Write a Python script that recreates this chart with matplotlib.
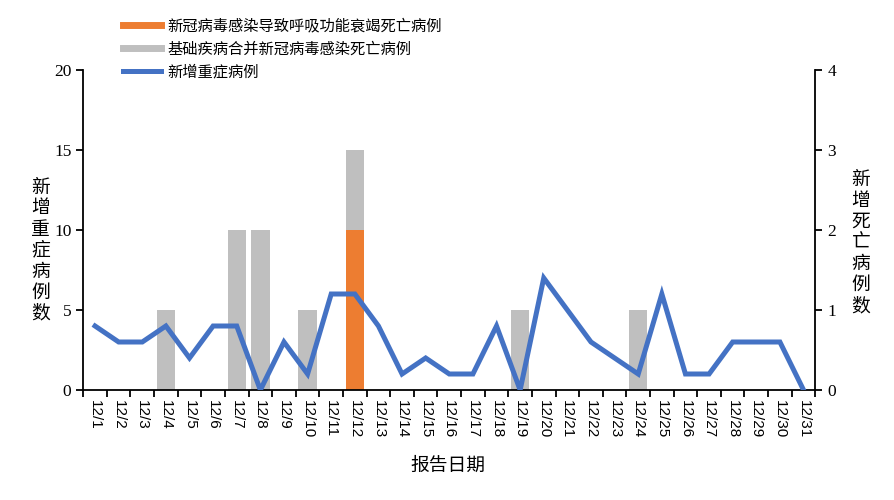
import matplotlib
matplotlib.use("Agg")
import matplotlib.pyplot as plt
from matplotlib.lines import Line2D
import numpy as np

dates = [f"12/{d}" for d in range(1, 32)]
severe = [4, 3, 3, 4, 2, 4, 4, 0, 3, 1, 6, 6, 4, 1, 2, 1, 1, 4, 0, 7,
          5, 3, 2, 1, 6, 1, 1, 3, 3, 3, 0]
death_resp = [0, 0, 0, 0, 0, 0, 0, 0, 0, 0, 0, 2, 0, 0, 0, 0, 0, 0, 0, 0,
              0, 0, 0, 0, 0, 0, 0, 0, 0, 0, 0]
death_basic = [0, 0, 0, 1, 0, 0, 2, 2, 0, 1, 0, 1, 0, 0, 0, 0, 0, 0, 1, 0,
               0, 0, 0, 1, 0, 0, 0, 0, 0, 0, 0]
left_ticks = [0, 5, 10, 15, 20]
right_ticks = [0, 1, 2, 3, 4]

CJK = ["Noto Sans CJK SC", "DejaVu Sans"]
SERIF = ["Liberation Serif", "DejaVu Serif"]
BLUE = "#4472C4"
ORANGE = "#ED7D31"
GRAY = "#BFBFBF"

fig = plt.figure(figsize=(8.95, 5.0), dpi=100)
ax = fig.add_axes([0.093, 0.22, 0.818, 0.64])
ax2 = ax.twinx()

x = np.arange(len(dates))
ax2.bar(x, death_resp, width=0.78, color=ORANGE, zorder=2)
ax2.bar(x, death_basic, width=0.78, bottom=death_resp, color=GRAY, zorder=2)
ax.plot(x, severe, color=BLUE, lw=3.6, solid_joinstyle="miter", zorder=3)

ax.set_zorder(ax2.get_zorder() + 1)
ax.patch.set_visible(False)

ax.set_xlim(-0.5, len(dates) - 0.5)
ax.set_ylim(0, 20)
ax2.set_ylim(0, 4)
ax.set_yticks(left_ticks)
ax2.set_yticks(right_ticks)
for a in (ax, ax2):
    a.spines["top"].set_visible(False)
    for s in a.spines.values():
        s.set_linewidth(1.3)
ax2.spines["left"].set_visible(False)
ax2.spines["bottom"].set_visible(False)
ax.spines["right"].set_visible(False)

ax.set_xticks(x)
ax.set_xticklabels(dates, rotation=-90, family=["Liberation Sans", "DejaVu Sans"], fontsize=11)
ax.set_xticks(np.arange(-0.5, len(dates), 1), minor=True)
ax.tick_params(axis="x", which="major", length=0, pad=7)
ax.tick_params(axis="x", which="minor", length=5, width=1.3, direction="out")
ax.tick_params(axis="y", length=5, width=1.3, direction="out")
ax2.tick_params(axis="y", length=5, width=1.3, direction="out")
for lab in ax.get_yticklabels() + ax2.get_yticklabels():
    lab.set_family(SERIF)
    lab.set_fontsize(12.5)

fig.text(0.5, 0.07, "报告日期", family=CJK, fontsize=13.5, ha="center", va="center")
fig.text(0.045, 0.50, "\n".join("新增重症病例数"), family=CJK, fontsize=13.5,
         ha="center", va="center", linespacing=1.0)
fig.text(0.962, 0.515, "\n".join("新增死亡病例数"), family=CJK, fontsize=13.5,
         ha="center", va="center", linespacing=1.0)

handles = [Line2D([0], [0], color=ORANGE, lw=5),
           Line2D([0], [0], color=GRAY, lw=5),
           Line2D([0], [0], color=BLUE, lw=3.6)]
labels = ["新冠病毒感染导致呼吸功能衰竭死亡病例",
          "基础疾病合并新冠病毒感染死亡病例",
          "新增重症病例"]
fig.legend(handles, labels, loc="upper left", bbox_to_anchor=(0.122, 0.993),
           frameon=False, prop={"family": CJK, "size": 11},
           handlelength=2.5, handletextpad=0.4, labelspacing=0.4)

fig.savefig("out.png", dpi=100)
